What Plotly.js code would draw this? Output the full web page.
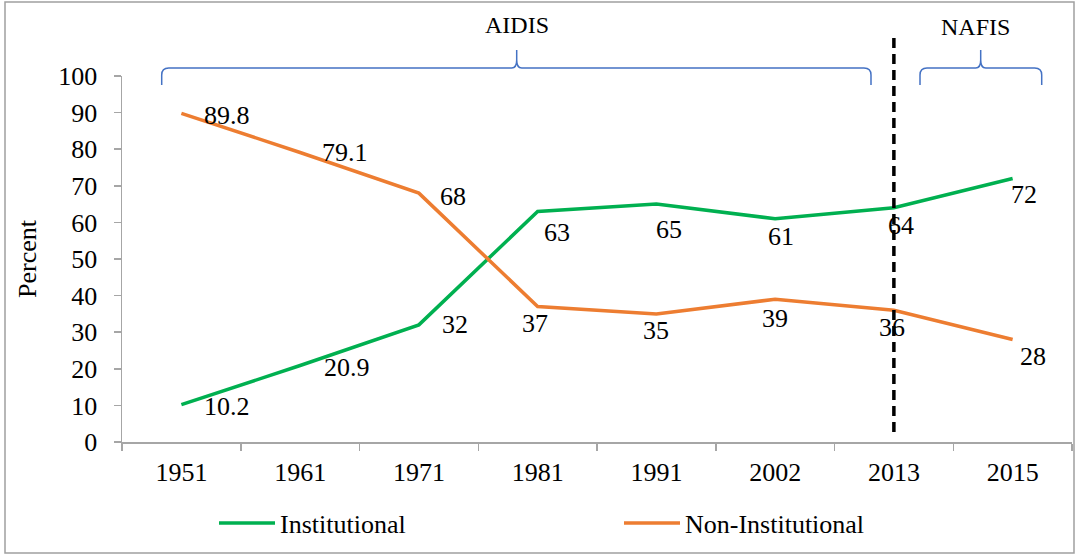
<!DOCTYPE html>
<html>
<head>
<meta charset="utf-8">
<script src="https://cdn.plot.ly/plotly-3.0.1.min.js"></script>
<style>
html,body{margin:0;padding:0;background:#fff;}
#chart{width:1080px;height:554px;}
</style>
</head>
<body>
<div id="chart"></div>
<script>
// ---- data ----
var years = ['1951', '1961', '1971', '1981', '1991', '2002', '2013', '2015'];
var institutional = [10.2, 20.9, 32, 63, 65, 61, 64, 72];
var nonInstitutional = [89.8, 79.1, 68, 37, 35, 39, 36, 28];
var seriesNames = ['Institutional', 'Non-Institutional'];
var periodLabels = ['AIDIS', 'NAFIS'];
var dividerYear = '2013';

// ---- style / layout helpers ----
var W = 1080, H = 554;
var M = {l: 122, r: 8, t: 76, b: 112};
var PW = W - M.l - M.r, PH = H - M.t - M.b;
function fx(px) { return (px - M.l) / PW; }
function fy(py) { return (H - M.b - py) / PH; }

var FONT = 'Liberation Serif, Times New Roman, serif';
var GREEN = '#00b050', ORANGE = '#ed7d31', AXIS = '#a6a6a6', BRACE = '#4472c4';

// label offsets in px (dx right, dy down) for each point
var instOffsets = [[46,2],[47,2],[36,0],[19,21],[13,25],[6,18],[7,18],[11,16]];
var nonOffsets  = [[46,2],[45,0],[34,3],[-3,17],[0,17],[0,19],[-2,17],[20,17]];

var traces = [
  {x: years, y: institutional, name: seriesNames[0], type: 'scatter', mode: 'lines',
   line: {color: GREEN, width: 3.5}, hoverinfo: 'skip'},
  {x: years, y: nonInstitutional, name: seriesNames[1], type: 'scatter', mode: 'lines',
   line: {color: ORANGE, width: 3.5}, hoverinfo: 'skip'}
];

var annotations = [];
function addLabels(vals, offs) {
  vals.forEach(function (v, i) {
    annotations.push({
      x: i, y: v, xref: 'x', yref: 'y', text: String(v), showarrow: false,
      xanchor: 'center', yanchor: 'middle',
      xshift: offs[i][0], yshift: -offs[i][1],
      font: {family: FONT, size: 26, color: '#000'}
    });
  });
}
addLabels(institutional, instOffsets);
addLabels(nonInstitutional, nonOffsets);

annotations.push({x: fx(517), y: fy(25), xref: 'paper', yref: 'paper', text: periodLabels[0],
  xanchor: 'center', yanchor: 'middle',
  showarrow: false, font: {family: FONT, size: 24, color: '#000'}});
annotations.push({x: fx(975), y: fy(27), xref: 'paper', yref: 'paper', text: periodLabels[1],
  xanchor: 'center', yanchor: 'middle',
  showarrow: false, font: {family: FONT, size: 24, color: '#000'}});

function bracePath(x0, xm, x1, yTip, yBar, yEnd) {
  var p = function (x, y) { return fx(x).toFixed(5) + ',' + fy(y).toFixed(5); };
  return 'M' + p(x0, yEnd) + ' L' + p(x0, yBar + 7) +
    ' Q' + p(x0, yBar) + ' ' + p(x0 + 7, yBar) +
    ' L' + p(xm - 5, yBar) +
    ' Q' + p(xm, yBar) + ' ' + p(xm, yBar - 8) +
    ' L' + p(xm, yTip) +
    ' M' + p(xm, yTip) + ' L' + p(xm, yBar - 8) +
    ' Q' + p(xm, yBar) + ' ' + p(xm + 5, yBar) +
    ' L' + p(x1 - 7, yBar) +
    ' Q' + p(x1, yBar) + ' ' + p(x1, yBar + 7) +
    ' L' + p(x1, yEnd);
}

var divIdx = years.indexOf(dividerYear);
var shapes = [
  {type: 'rect', xref: 'paper', yref: 'paper', x0: fx(5), x1: fx(1074), y0: fy(553), y1: fy(2),
   line: {color: '#a0a0a0', width: 1.5}, fillcolor: 'rgba(0,0,0,0)'},
  {type: 'path', xref: 'paper', yref: 'paper', path: bracePath(161.7, 516.7, 871, 50, 68, 85),
   line: {color: BRACE, width: 1.5}},
  {type: 'path', xref: 'paper', yref: 'paper', path: bracePath(920, 980.7, 1041.7, 50, 68, 85),
   line: {color: BRACE, width: 1.5}},
  {type: 'line', xref: 'x', yref: 'paper', x0: divIdx, x1: divIdx, y0: fy(432), y1: fy(32),
   line: {color: '#000', width: 3.5, dash: '10px,6px'}}
];

var layout = {
  width: W, height: H,
  margin: M,
  paper_bgcolor: '#fff', plot_bgcolor: '#fff',
  font: {family: FONT, size: 25, color: '#000'},
  showlegend: true,
  legend: {orientation: 'h', x: fx(214), xanchor: 'left', y: fy(523), yanchor: 'middle',
    font: {family: FONT, size: 26, color: '#000'}, entrywidth: 334, entrywidthmode: 'pixels',
    itemwidth: 56, bgcolor: 'rgba(0,0,0,0)'},
  xaxis: {type: 'category', range: [-0.5, years.length - 0.5], showline: true, linecolor: AXIS, linewidth: 1.5,
    ticks: 'outside', tickson: 'boundaries', ticklen: 7, tickcolor: AXIS, tickwidth: 1.5,
    showgrid: false, zeroline: false, ticklabelstandoff: 6,
    tickfont: {family: FONT, size: 26, color: '#000'}, fixedrange: true},
  yaxis: {range: [0, 100], dtick: 10, showline: true, linecolor: AXIS, linewidth: 1.5,
    ticks: 'outside', ticklen: 7, tickcolor: AXIS, tickwidth: 1.5,
    showgrid: false, zeroline: false, ticklabelstandoff: 11,
    tickfont: {family: FONT, size: 26, color: '#000'},
    title: {text: 'Percent', font: {family: FONT, size: 26, color: '#000'}, standoff: 14},
    fixedrange: true},
  annotations: annotations,
  shapes: shapes
};

Plotly.newPlot('chart', traces, layout, {displayModeBar: false, staticPlot: true});
</script>
</body>
</html>
